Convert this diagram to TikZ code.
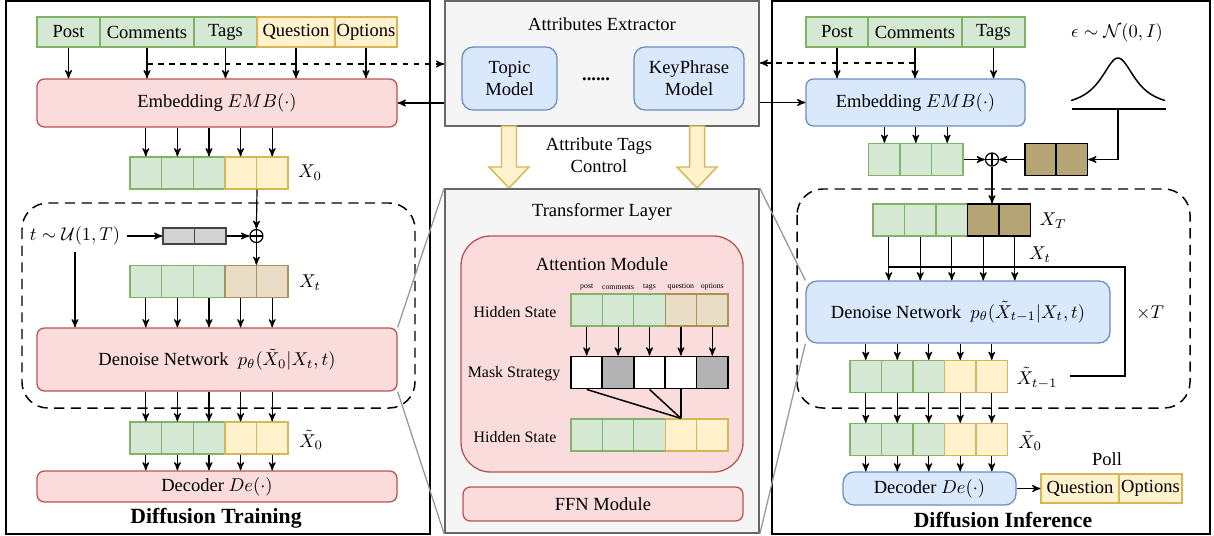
\documentclass[tikz,border=0pt]{standalone}
\usepackage{amsmath}
\usepackage{amssymb}
\usepackage{fontspec}
\setmainfont{Liberation Serif}
\usepackage{xcolor}
\usepackage{tikz}
\usetikzlibrary{arrows}

\definecolor{gfill}{HTML}{D5E8D4}
\definecolor{gline}{HTML}{82B366}
\definecolor{yfill}{HTML}{FFF2CC}
\definecolor{yline}{HTML}{D6B656}
\definecolor{bfill}{HTML}{DAE8FC}
\definecolor{bline}{HTML}{6C8EBF}
\definecolor{rfill}{HTML}{FADCDC}
\definecolor{rline}{HTML}{B85450}
\definecolor{tfill}{HTML}{E9DDC6}
\definecolor{tline}{HTML}{A89258}
\definecolor{kfill}{HTML}{B5A574}
\definecolor{sfill}{HTML}{F5F5F5}
\definecolor{sline}{HTML}{666666}
\definecolor{mfill}{HTML}{B3B3B3}
\definecolor{nfill}{HTML}{D2D2D4}
\definecolor{nline}{HTML}{444444}

\newcommand{\pxl}{0.54pt}

\tikzset{
  cell/.style={draw, inner sep=0pt, minimum width=31.5*\pxl, minimum height=32*\pxl, line width=0.7pt},
  tagbox/.style={draw, inner sep=0pt, minimum height=30*\pxl, line width=0.7pt},
  redbox/.style={draw=rline, fill=rfill, rounded corners=4pt, line width=0.7pt, inner sep=0pt},
  bluebox/.style={draw=bline, fill=bfill, rounded corners=4pt, line width=0.7pt, inner sep=0pt},
  graybox/.style={draw=sline, fill=sfill, line width=0.9pt, inner sep=0pt},
  panel/.style={draw=black, line width=1pt},
  arr/.style={->, >=stealth', line width=0.65pt},
  dasharr/.style={->, >=stealth', dashed, line width=0.65pt},
  loopbox/.style={draw=black, line width=0.8pt, dash pattern=on 5.5pt off 3.5pt, rounded corners=14pt},
  zoomline/.style={draw=black!40, line width=0.7pt},
  adder/.style={circle, draw, inner sep=0pt, minimum size=13*\pxl, line width=0.65pt,
    path picture={\draw (path picture bounding box.north) -- (path picture bounding box.south)
      (path picture bounding box.west) -- (path picture bounding box.east);}},
  tinylabel/.style={font=\fontsize{4.2}{5}\selectfont, inner sep=0pt},
  statelab/.style={font=\fontsize{8.6}{10}\selectfont, inner sep=1pt},
  titlelab/.style={font=\fontsize{11.7}{13}\selectfont\bfseries}
}

\begin{document}
\begin{tikzpicture}[x=\pxl, y=-\pxl]
        \useasboundingbox (0,0) rectangle (1214,535);

        % panels
        \draw[panel] (6,1) rectangle (430,534);
        \draw[panel] (772,1) rectangle (1210,534);

        % ---------------- diffusion training ----------------
        \foreach \n/\t/\cx/\w/\f/\d in {post/Post/68.5/63/gfill/gline, comments/Comments/147/94/gfill/gline,
            tags/Tags/225.5/63/gfill/gline, question/Question/296/78/yfill/yline, options/Options/366/62/yfill/yline}
          \node[tagbox, fill=\f, draw=\d, minimum width=\w*\pxl] (lt-\n) at (\cx,32) {\t};

        \node[redbox, minimum width=360*\pxl, minimum height=48*\pxl] (lemb) at (217,103) {Embedding $EMB(\cdot)$};
        \foreach \n in {post,comments,tags,question,options}
          \draw[arr] (lt-\n.south) -- (lt-\n.south |- lemb.north);

        \foreach \i/\f/\d in {1/gfill/gline,2/gfill/gline,3/gfill/gline,4/yfill/yline,5/yfill/yline}
          \node[cell, fill=\f, draw=\d] (lx0-\i) at ({130+(\i-0.5)*31.6},173) {};
        \node (lx0lab) at (310,173) {$X_0$};
        \foreach \i in {1,...,5}
          \draw[arr] (lx0-\i |- lemb.south) -- (lx0-\i.north);

        \draw[loopbox] (22,203) rectangle (415,408);

        \node[adder] (ladd) at (256.4,236) {};
        \draw[arr] (lx0-4.south east) -- (ladd.north);
        \node (tlab) at (75,236) {$t\sim\mathcal{U}(1,T)$};
        \foreach \i in {1,2}
          \node[cell, fill=nfill, draw=nline, minimum height=16*\pxl] (lg-\i) at ({163+(\i-0.5)*31.5},236) {};
        \draw[arr] (tlab.east) -- (lg-1.west);
        \draw[arr] (lg-2.east) -- (ladd.west);

        \foreach \i/\f/\d in {1/gfill/gline,2/gfill/gline,3/gfill/gline,4/tfill/tline,5/tfill/tline}
          \node[cell, fill=\f, draw=\d] (lxt-\i) at ({130+(\i-0.5)*31.6},281.5) {};
        \node (lxtlab) at (310,283) {$X_t$};
        \draw[arr] (ladd.south) -- (ladd.south |- lxt-1.north);

        \node[redbox, minimum width=360*\pxl, minimum height=63*\pxl] (lden) at (217,359.5)
          {Denoise Network\ \ $p_\theta(\tilde{X}_0|X_t,t)$};
        \draw[arr] (tlab.south) -- (tlab.south |- lden.north);
        \foreach \i in {1,...,5}
          \draw[arr] (lxt-\i.south) -- (lxt-\i.south |- lden.north);

        \foreach \i/\f/\d in {1/gfill/gline,2/gfill/gline,3/gfill/gline,4/yfill/yline,5/yfill/yline}
          \node[cell, fill=\f, draw=\d] (lxh-\i) at ({130+(\i-0.5)*31.6},438) {};
        \node (lxhlab) at (311,440) {$\tilde{X}_0$};
        \foreach \i in {1,...,5}
          \draw[arr] (lxh-\i |- lden.south) -- (lxh-\i.north);

        \node[redbox, minimum width=360*\pxl, minimum height=31*\pxl] (ldec) at (217,486.5) {Decoder $De(\cdot)$};
        \foreach \i in {1,...,5}
          \draw[arr] (lxh-\i.south) -- (lxh-\i.south |- ldec.north);
        \node[titlelab] (lcap) at (216,518) {Diffusion Training};

        % ---------------- attributes extractor ----------------
        \node[graybox, minimum width=314*\pxl, minimum height=125*\pxl] (extract) at (602,63.5) {};
        \node (extitle) at (602,24) {Attributes Extractor};
        \node[bluebox, rounded corners=6pt, minimum width=95*\pxl, minimum height=63*\pxl, align=center] (topic) at (509.5,78.5) {Topic\\Model};
        \node (dots) at (596,79) {\textbf{......}};
        \node[bluebox, rounded corners=6pt, minimum width=110*\pxl, minimum height=63*\pxl, align=center] (keyph) at (689,78.5) {KeyPhrase\\Model};

        \coordinate (ldash) at (147,64);
        \draw[dasharr] (ldash) -- (ldash -| extract.west);
        \draw[arr] (extract.west |- lemb.east) -- (lemb.east);

        \foreach \cx in {509,697}
          \filldraw[fill=yfill, draw=yline, line width=0.8pt] ({\cx-7.5},126) -- ({\cx+7.5},126) -- ({\cx+7.5},167)
            -- ({\cx+20},167) -- (\cx,188) -- ({\cx-20},167) -- ({\cx-7.5},167) -- cycle;
        \node[align=center] (ctrl) at (599,155) {Attribute Tags\\Control};

        % ---------------- transformer layer ----------------
        \node[graybox, minimum width=314*\pxl, minimum height=344*\pxl] (trans) at (602,361) {};
        \node (trtitle) at (602,212) {Transformer Layer};
        \node[redbox, rounded corners=16pt, minimum width=282*\pxl, minimum height=236*\pxl] (attn) at (602,354) {};
        \node (attitle) at (602,264) {Attention Module};

        \foreach \i/\f/\d/\t in {1/gfill/gline/post,2/gfill/gline/comments,3/gfill/gline/tags,4/tfill/tline/question,5/tfill/tline/options} {
          \node[cell, fill=\f, draw=\d] (hs1-\i) at ({571+(\i-0.5)*31.4},310) {};
          \node[tinylabel] (hl-\i) at ({571+(\i-0.5)*31.4},287) {\t};
        }
        \foreach \i/\f in {1/white,2/mfill,3/white,4/white,5/mfill}
          \node[cell, fill=\f, draw=black, line width=1pt] (mk-\i) at ({571+(\i-0.5)*31.4},372.5) {};
        \foreach \i/\f/\d in {1/gfill/gline,2/gfill/gline,3/gfill/gline,4/yfill/yline,5/yfill/yline}
          \node[cell, fill=\f, draw=\d] (hs2-\i) at ({571+(\i-0.5)*31.4},435) {};
        \node[statelab] (hslab1) at (515,312) {Hidden State};
        \node[statelab] (mklab) at (514,374) {Mask Strategy};
        \node[statelab] (hslab2) at (515,437) {Hidden State};
        \foreach \i in {1,...,5}
          \draw[arr] (hs1-\i.south) -- (mk-\i.north);
        \foreach \i in {1,3,4}
          \draw[line width=0.8pt] (mk-\i.south) -- (hs2-4.north);

        \node[redbox, minimum width=280*\pxl, minimum height=34*\pxl] (ffn) at (603,504) {FFN Module};

        % ---------------- diffusion inference ----------------
        \foreach \n/\t/\cx/\w in {post/Post/837/62, comments/Comments/915/94, tags/Tags/993.5/63}
          \node[tagbox, fill=gfill, draw=gline, minimum width=\w*\pxl] (rt-\n) at (\cx,32) {\t};
        \node[bluebox, minimum width=219*\pxl, minimum height=47*\pxl] (remb) at (915.5,102.5) {Embedding $EMB(\cdot)$};
        \foreach \n in {post,comments,tags}
          \draw[arr] (rt-\n.south) -- (rt-\n.south |- remb.north);

        \coordinate (rdash) at (915,63);
        \draw[dasharr] (rdash) -- (rdash -| extract.east);
        \draw[arr] (extract.east |- remb.west) -- (remb.west);

        \foreach \i in {1,2,3}
          \node[cell, fill=gfill, draw=gline] (rg-\i) at ({868.7+(\i-0.5)*31.4},159.5) {};
        \foreach \i in {1,...,3}
          \draw[arr] (rg-\i |- remb.south) -- (rg-\i.north);
        \node[adder] (radd) at (992,159.5) {};
        \foreach \i in {1,2}
          \node[cell, fill=kfill, draw=black] (nz-\i) at ({1025+(\i-0.5)*31.2},159.5) {};
        \draw[arr] (rg-3.east) -- (radd.west);
        \draw[arr] (nz-1.west) -- (radd.east);

        % noise distribution
        \draw[line width=0.8pt] (1072,109) -- (1166,109);
        \draw[line width=0.8pt] plot[domain=-47:47, samples=80, smooth] ({1118+\x},{109-51/(1+(\x/21)*(\x/21))});
        \coordinate (gbase) at (1118,109);
        \draw[arr] (gbase) |- (nz-2.east);
        \node (epslab) at (1117,33) {$\epsilon\sim\mathcal{N}(0,I)$};

        \draw[loopbox] (797,189) rectangle (1190,408);

        \foreach \i/\f/\d in {1/gfill/gline,2/gfill/gline,3/gfill/gline,4/kfill/black,5/kfill/black}
          \node[cell, fill=\f, draw=\d] (rxT-\i) at ({873+(\i-0.5)*31.5},220) {};
        \node (rxTlab) at (1053,221) {$X_T$};
        \draw[arr] (radd.south) -- (radd.south |- rxT-1.north);

        \node[bluebox, rounded corners=6pt, minimum width=304*\pxl, minimum height=62*\pxl] (rden) at (958,312)
          {Denoise Network\ \ $p_\theta(\tilde{X}_{t-1}|X_t,t)$};
        \foreach \i in {1,...,5}
          \draw[arr] (rxT-\i.south) -- (rxT-\i.south |- rden.north);

        \foreach \i/\f/\d in {1/gfill/gline,2/gfill/gline,3/gfill/gline,4/yfill/yline,5/yfill/yline}
          \node[cell, fill=\f, draw=\d] (rxm-\i) at ({850+(\i-0.5)*31.5},376.5) {};
        \node (rxmlab) at (1037,378) {$\tilde{X}_{t-1}$};
        \foreach \i in {1,...,5}
          \draw[arr] (rxm-\i |- rden.south) -- (rxm-\i.north);

        \coordinate (loopin) at (1070,376);
        \draw[line width=0.7pt] (loopin) -| (1125,267) -- (rxT-1.south |- 0,267);
        \node (xtlab) at (1040,255) {$X_t$};
        \node (timesT) at (1150,313) {$\times T$};

        \foreach \i/\f/\d in {1/gfill/gline,2/gfill/gline,3/gfill/gline,4/yfill/yline,5/yfill/yline}
          \node[cell, fill=\f, draw=\d] (rxh-\i) at ({850+(\i-0.5)*31.5},439.5) {};
        \node (rxhlab) at (1030,441) {$\tilde{X}_0$};
        \foreach \i in {1,...,5}
          \draw[arr] (rxm-\i.south) -- (rxh-\i.north);

        \node[bluebox, rounded corners=6pt, minimum width=173*\pxl, minimum height=33*\pxl] (rdec) at (929.5,488.5) {Decoder $De(\cdot)$};
        \foreach \i in {1,...,5}
          \draw[arr] (rxh-\i.south) -- (rxh-\i.south |- rdec.north);

        \node[tagbox, fill=yfill, draw=yline, minimum width=78*\pxl, minimum height=29*\pxl] (pq) at (1080,488.5) {Question};
        \node[tagbox, fill=yfill, draw=yline, minimum width=63*\pxl, minimum height=29*\pxl] (po) at (1150.5,488.5) {Options};
        \node (polllab) at (1107,459) {Poll};
        \draw[arr] (rdec.east) -- (pq.west);
        \node[titlelab] (rcap) at (1003,520) {Diffusion Inference};

        % zoom lines
        \draw[zoomline] (lden.north east) -- (trans.north west);
        \draw[zoomline] (lden.south east) -- (trans.south west);
        \draw[zoomline] (trans.north east) -- (rden.north west);
        \draw[zoomline] (trans.south east) -- (rden.south west);
\end{tikzpicture}
\end{document}
